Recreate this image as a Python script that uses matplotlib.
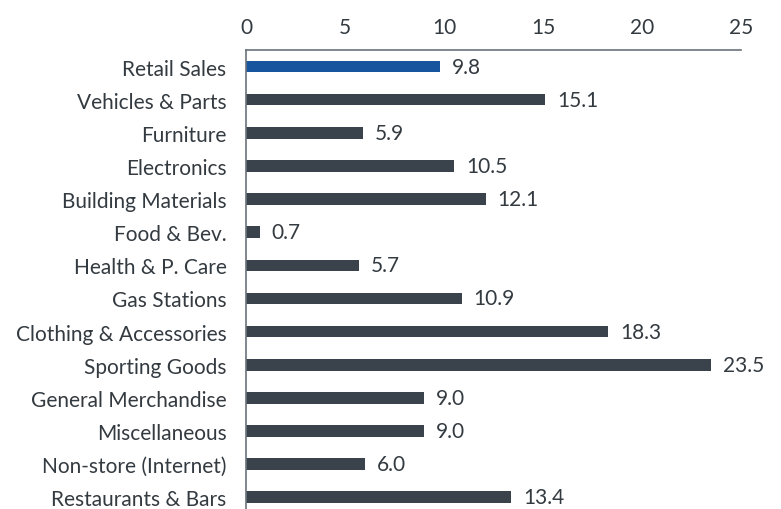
import matplotlib.pyplot as plt

# -----------------------------
# DATA
# -----------------------------
categories = [
    "Retail Sales", "Vehicles & Parts", "Furniture", "Electronics",
    "Building Materials", "Food & Bev.", "Health & P. Care", "Gas Stations",
    "Clothing & Accessories", "Sporting Goods", "General Merchandise",
    "Miscellaneous", "Non-store (Internet)", "Restaurants & Bars"
]
values = [9.8, 15.1, 5.9, 10.5, 12.1, 0.7, 5.7, 10.9, 18.3, 23.5, 9.0, 9.0, 6.0, 13.4]
x_ticks = [0, 5, 10, 15, 20, 25]

plt.rcParams['font.family'] = ['Lato', 'DejaVu Sans']
text_color = "#333a40"
spine_color = "#6b727a"

colors = ["#17559f" if c == "Retail Sales" else "#3a434b" for c in categories]

fig = plt.figure(figsize=(7.81, 5.10), dpi=100)
ax = fig.add_axes([0.315, -0.0094, 0.6338, 0.9094])

pos = list(range(len(categories)))
bars = ax.barh(pos, values, height=0.35, color=colors)

ax.set_ylim(len(categories) - 0.5, -0.5)
ax.set_xlim(0, 25)
ax.set_yticks(pos)
ax.set_yticklabels(categories)
ax.set_xticks(x_ticks)
ax.xaxis.tick_top()

ax.tick_params(axis='both', length=0, labelsize=15, colors=text_color)
ax.tick_params(axis='y', pad=14)
ax.tick_params(axis='x', pad=9)

for s in ["right", "bottom"]:
    ax.spines[s].set_visible(False)
for s in ["top", "left"]:
    ax.spines[s].set_color(spine_color)
    ax.spines[s].set_linewidth(1.2)

# value labels
for bar, v in zip(bars, values):
    ax.text(bar.get_width() + 0.6, bar.get_y() + bar.get_height() / 2,
            f"{v:.1f}", va='center', ha='left', fontsize=15, color=text_color)

fig.savefig("out.png", dpi=100)
